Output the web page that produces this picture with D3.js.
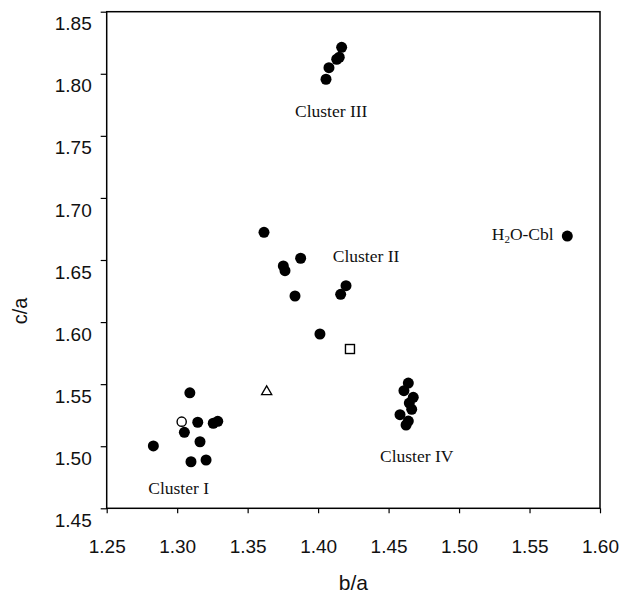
<!DOCTYPE html>
<html>
<head>
<meta charset="utf-8">
<script src="https://cdn.jsdelivr.net/npm/d3@7"></script>
<style>
  body { margin: 0; background: #fff; }
</style>
</head>
<body>
<script>
// b/a vs c/a scatter
var xTicks = [1.25, 1.30, 1.35, 1.40, 1.45, 1.50, 1.55, 1.60];
var yTicks = [1.45, 1.50, 1.55, 1.60, 1.65, 1.70, 1.75, 1.80, 1.85];

// filled circles: [b/a, c/a]
var clusterI = [[1.309, 1.543], [1.3146, 1.5193], [1.3256, 1.5185], [1.3288, 1.5201],
    [1.3051, 1.5112], [1.3162, 1.5036], [1.2831, 1.5002], [1.3098, 1.4875], [1.3205, 1.4889]];
var clusterII = [[1.3616, 1.6723], [1.3876, 1.6514], [1.3753, 1.6452], [1.3765, 1.6414],
    [1.3836, 1.621], [1.4198, 1.6293], [1.416, 1.6224], [1.4013, 1.5904]];
var clusterIII = [[1.4167, 1.8213], [1.415, 1.8133], [1.4132, 1.8117], [1.4077, 1.8049], [1.4056, 1.7956]];
var clusterIV = [[1.464, 1.5509], [1.4609, 1.5447], [1.4675, 1.5394], [1.4647, 1.5348],
    [1.4664, 1.5297], [1.4581, 1.5254], [1.464, 1.5203], [1.4624, 1.5171]];
var h2oCbl = [[1.5768, 1.6693]];

// other markers
var openCircle = [[1.3032, 1.5198]];
var openSquare = [[1.4226, 1.5783]];
var openTriangle = [[1.3635, 1.5439]];

// labels: [text, b/a, c/a] (start / baseline)
var labels = [["Cluster I", 1.2795, 1.4615], ["Cluster II", 1.4104, 1.6484],
    ["Cluster III", 1.3836, 1.7652], ["Cluster IV", 1.4439, 1.4873]];

var width = 623, height = 593;
var plotLeft = 106.7, plotRight = 600, plotTop = 11.7, plotBottom = 508.3;

var svg = d3.select('body').append('svg')
    .attr('width', width)
    .attr('height', height);

var x = d3.scaleLinear().domain([1.25, 1.60]).range([plotLeft, plotRight]);
var y = d3.scaleLinear().domain([1.45, 1.85]).range([plotBottom, plotTop]);

// y axis
var yAxis = svg.append('g')
    .attr('transform', 'translate(' + plotLeft + ',0)')
    .call(d3.axisLeft(y).tickValues(yTicks).tickFormat(d3.format('.2f')).tickSize(6).tickPadding(9));
yAxis.select('.domain').remove();
yAxis.selectAll('line').attr('stroke', '#000').attr('stroke-width', 1.2);
yAxis.selectAll('text')
    .attr('font-family', 'Liberation Sans, Arial, sans-serif')
    .attr('font-size', 19)
    .attr('fill', '#111')
    .attr('transform', 'translate(0,12)');

// x axis
var xAxis = svg.append('g')
    .attr('transform', 'translate(0,' + plotBottom + ')')
    .call(d3.axisBottom(x).tickValues(xTicks).tickFormat(d3.format('.2f')).tickSize(5));
xAxis.select('.domain').remove();
xAxis.selectAll('line').attr('stroke', '#000').attr('stroke-width', 1.2);
xAxis.selectAll('text')
    .attr('font-family', 'Liberation Sans, Arial, sans-serif')
    .attr('font-size', 19)
    .attr('fill', '#111')
    .attr('y', 38.5)
    .attr('dy', '0.35em');

// frame
svg.append('rect')
    .attr('x', plotLeft)
    .attr('y', plotTop)
    .attr('width', plotRight - plotLeft)
    .attr('height', plotBottom - plotTop)
    .attr('fill', 'none')
    .attr('stroke', '#000')
    .attr('stroke-width', 1.5);

// axis titles
svg.append('text')
    .attr('x', (plotLeft + plotRight) / 2)
    .attr('y', 583)
    .attr('dy', '0.35em')
    .attr('text-anchor', 'middle')
    .attr('font-family', 'Liberation Sans, Arial, sans-serif')
    .attr('font-size', 21)
    .attr('fill', '#111')
    .text('b/a');

svg.append('text')
    .attr('transform', 'translate(20,311) rotate(-90)')
    .attr('dy', '0.35em')
    .attr('text-anchor', 'middle')
    .attr('font-family', 'Liberation Sans, Arial, sans-serif')
    .attr('font-size', 20)
    .attr('fill', '#111')
    .text('c/a');

// filled points
var filled = clusterI.concat(clusterII, clusterIII, clusterIV, h2oCbl);
svg.append('g').selectAll('circle')
    .data(filled)
    .enter().append('circle')
    .attr('cx', function (d) { return x(d[0]); })
    .attr('cy', function (d) { return y(d[1]); })
    .attr('r', 5.5)
    .attr('fill', '#000');

svg.append('g').selectAll('circle')
    .data(openCircle)
    .enter().append('circle')
    .attr('cx', function (d) { return x(d[0]); })
    .attr('cy', function (d) { return y(d[1]); })
    .attr('r', 4.6)
    .attr('fill', '#fff')
    .attr('stroke', '#000')
    .attr('stroke-width', 1.4);

svg.append('g').selectAll('rect')
    .data(openSquare)
    .enter().append('rect')
    .attr('x', function (d) { return x(d[0]) - 4.5; })
    .attr('y', function (d) { return y(d[1]) - 4.5; })
    .attr('width', 9)
    .attr('height', 9)
    .attr('fill', '#fff')
    .attr('stroke', '#000')
    .attr('stroke-width', 1.4);

svg.append('g').selectAll('path')
    .data(openTriangle)
    .enter().append('path')
    .attr('d', d3.symbol().type(d3.symbolTriangle).size(45))
    .attr('transform', function (d) { return 'translate(' + x(d[0]) + ',' + y(d[1]) + ')'; })
    .attr('fill', '#fff')
    .attr('stroke', '#000')
    .attr('stroke-width', 1.3);

// cluster labels
svg.append('g').selectAll('text')
    .data(labels)
    .enter().append('text')
    .attr('x', function (d) { return x(d[1]); })
    .attr('y', function (d) { return y(d[2]); })
    .attr('font-family', 'Liberation Serif, Times New Roman, serif')
    .attr('font-size', 17.5)
    .attr('fill', '#111')
    .text(function (d) { return d[0]; });

var h2o = svg.append('text')
    .attr('x', x(1.5232))
    .attr('y', y(1.6661))
    .attr('font-family', 'Liberation Serif, Times New Roman, serif')
    .attr('font-size', 17.5)
    .attr('fill', '#111');
h2o.append('tspan').text('H');
h2o.append('tspan').attr('font-size', 11).attr('dy', 3).text('2');
h2o.append('tspan').attr('dy', -3).text('O-Cbl');
</script>
</body>
</html>
